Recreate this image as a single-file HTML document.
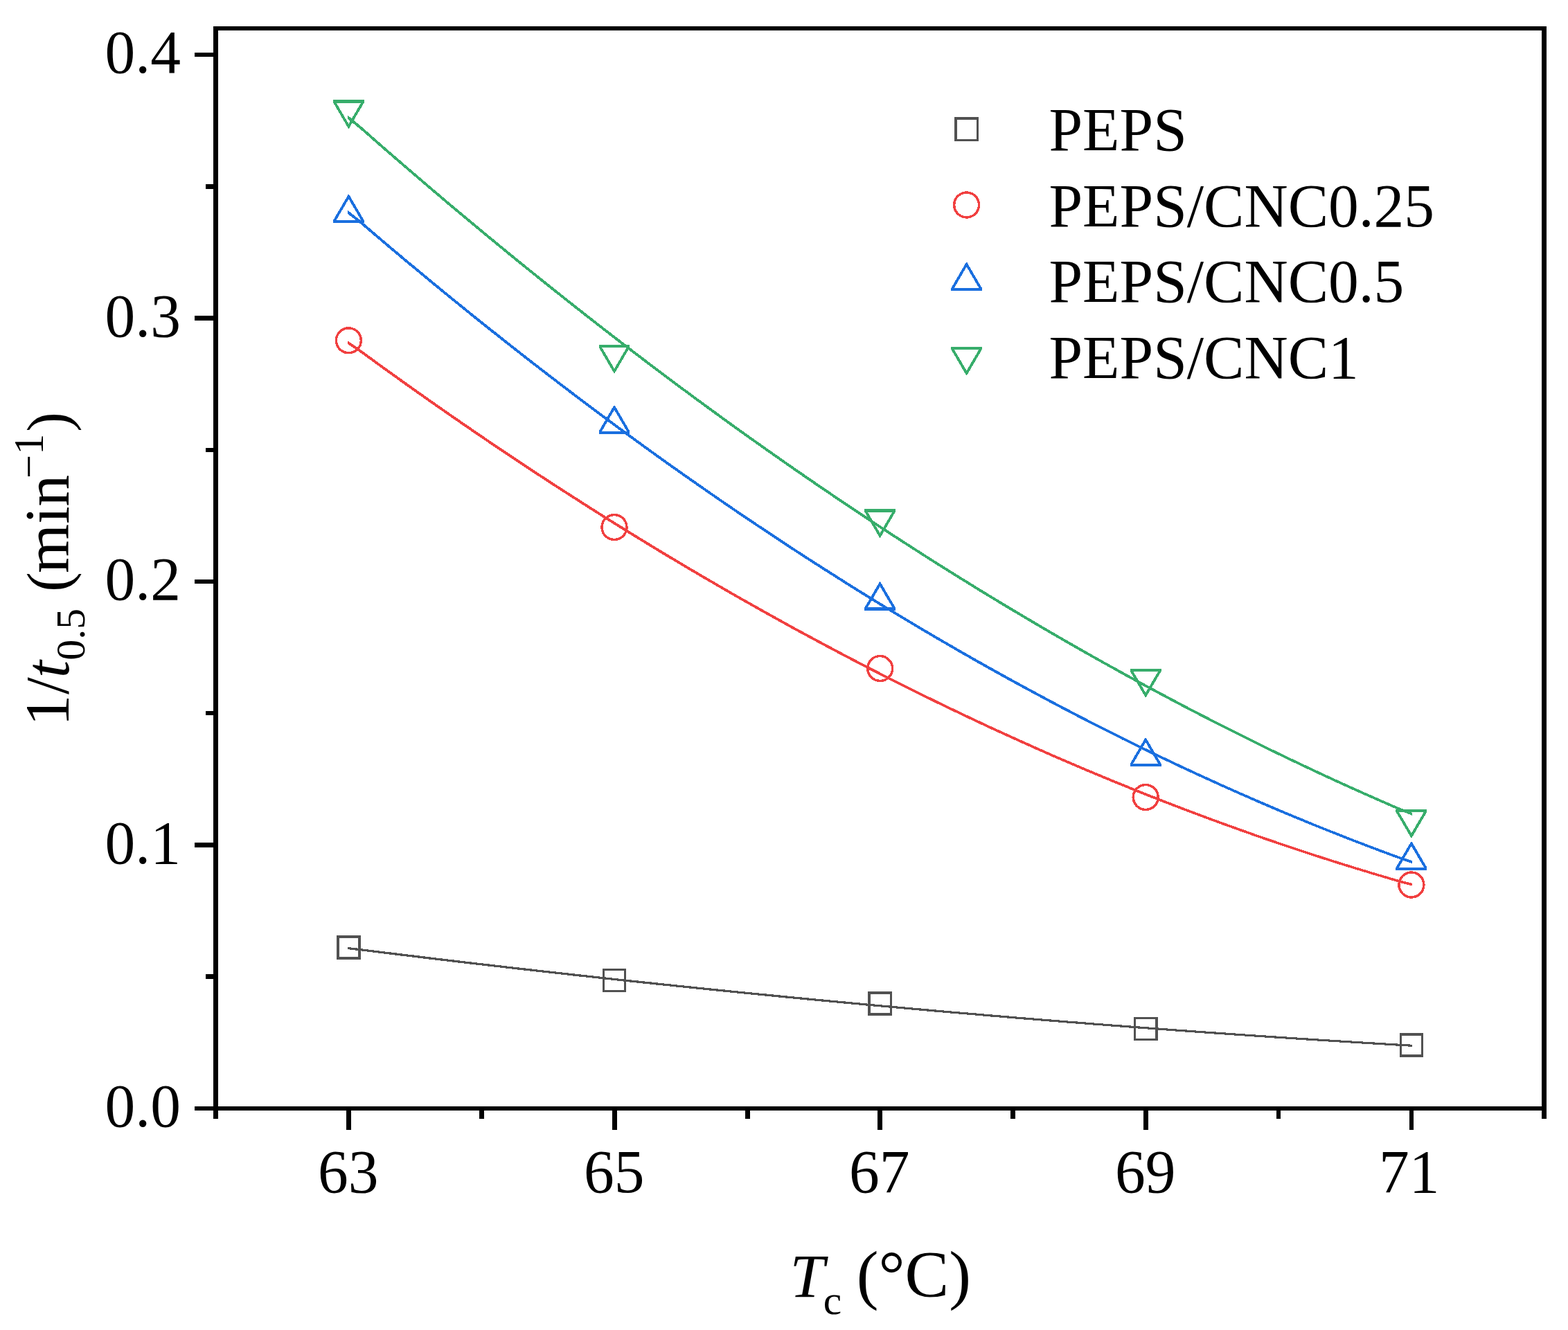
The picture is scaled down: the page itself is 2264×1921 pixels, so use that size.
<!DOCTYPE html>
<html lang="en"><head><meta charset="utf-8"><title>1/t0.5 versus Tc</title>
<style>
html,body{margin:0;padding:0;background:#fff;}
body{width:2264px;height:1921px;overflow:hidden;}
svg{display:block;}
text{font-family:"Liberation Serif",serif;font-size:87.5px;fill:#000;}
.it{font-style:italic;}
.mk{fill:none;stroke-width:3.5;stroke-linejoin:miter;}
.ln{fill:none;stroke-width:3.0;stroke-linejoin:round;}
</style></head><body>
<svg width="2264" height="1921" viewBox="0 0 2264 1921">
<rect x="0" y="0" width="2264" height="1921" fill="#fff"/>
<g shape-rendering="crispEdges" stroke="none">
<path d="M501.8 1367.9L519.3 1369.9L535.3 1371.9L551.2 1373.9L567.2 1375.8L583.2 1377.8L599.2 1379.7L615.2 1381.7L631.2 1383.6L647.1 1385.5L663.1 1387.4L679.1 1389.3L695.1 1391.2L711.1 1393.0L727.1 1394.9L743.0 1396.7L759.0 1398.5L775.0 1400.4L791.0 1402.2L807.0 1404.0L823.0 1405.7L839.0 1407.5L854.9 1409.3L870.9 1411.0L886.9 1412.8L902.9 1414.5L918.9 1416.2L934.9 1417.9L950.8 1419.6L966.8 1421.3L982.8 1423.0L998.8 1424.6L1014.8 1426.3L1030.8 1427.9L1046.7 1429.5L1062.7 1431.2L1078.7 1432.8L1094.7 1434.4L1110.7 1435.9L1126.7 1437.5L1142.6 1439.1L1158.6 1440.6L1174.6 1442.2L1190.6 1443.7L1206.6 1445.2L1222.5 1446.7L1238.5 1448.2L1254.5 1449.7L1270.5 1451.2L1286.5 1452.6L1302.5 1454.1L1318.5 1455.5L1334.4 1456.9L1350.4 1458.4L1366.4 1459.8L1382.4 1461.2L1398.4 1462.5L1414.3 1463.9L1430.3 1465.3L1446.3 1466.6L1462.3 1468.0L1478.3 1469.3L1494.3 1470.6L1510.2 1471.9L1526.2 1473.2L1542.2 1474.5L1558.2 1475.7L1574.2 1477.0L1590.2 1478.3L1606.2 1479.5L1622.1 1480.7L1638.1 1481.9L1654.1 1483.1L1670.1 1484.3L1686.1 1485.5L1702.0 1486.7L1718.0 1487.8L1734.0 1489.0L1750.0 1490.1L1766.0 1491.2L1782.0 1492.4L1798.0 1493.5L1813.9 1494.6L1829.9 1495.6L1845.9 1496.7L1861.9 1497.8L1877.9 1498.8L1893.8 1499.8L1909.8 1500.9L1925.8 1501.9L1941.8 1502.9L1957.8 1503.9L1973.8 1504.9L1989.8 1505.8L2005.7 1506.8L2021.7 1507.7L2039.2 1508.7L2039.2 1511.8L2021.7 1510.9L2005.7 1509.9L1989.8 1509.0L1973.8 1508.0L1957.8 1507.0L1941.8 1506.0L1925.8 1505.0L1909.8 1504.0L1893.8 1503.0L1877.9 1502.0L1861.9 1500.9L1845.9 1499.9L1829.9 1498.8L1813.9 1497.7L1798.0 1496.6L1782.0 1495.5L1766.0 1494.4L1750.0 1493.3L1734.0 1492.2L1718.0 1491.0L1702.0 1489.9L1686.1 1488.7L1670.1 1487.5L1654.1 1486.3L1638.1 1485.1L1622.1 1483.9L1606.2 1482.7L1590.2 1481.4L1574.2 1480.2L1558.2 1478.9L1542.2 1477.7L1526.2 1476.4L1510.2 1475.1L1494.3 1473.8L1478.3 1472.5L1462.3 1471.2L1446.3 1469.8L1430.3 1468.5L1414.3 1467.1L1398.4 1465.7L1382.4 1464.4L1366.4 1463.0L1350.4 1461.6L1334.4 1460.2L1318.5 1458.7L1302.5 1457.3L1286.5 1455.8L1270.5 1454.4L1254.5 1452.9L1238.5 1451.4L1222.5 1449.9L1206.6 1448.4L1190.6 1446.9L1174.6 1445.4L1158.6 1443.9L1142.6 1442.3L1126.7 1440.8L1110.7 1439.2L1094.7 1437.6L1078.7 1436.0L1062.7 1434.4L1046.7 1432.8L1030.8 1431.2L1014.8 1429.5L998.8 1427.9L982.8 1426.2L966.8 1424.5L950.8 1422.9L934.9 1421.2L918.9 1419.5L902.9 1417.8L886.9 1416.0L870.9 1414.3L854.9 1412.5L839.0 1410.8L823.0 1409.0L807.0 1407.2L791.0 1405.4L775.0 1403.6L759.0 1401.8L743.0 1400.0L727.1 1398.1L711.1 1396.3L695.1 1394.4L679.1 1392.6L663.1 1390.7L647.1 1388.8L631.2 1386.9L615.2 1385.0L599.2 1383.0L583.2 1381.1L567.2 1379.1L551.2 1377.2L535.3 1375.2L519.3 1373.2L501.8 1371.2Z" fill="#515151"/>
<path d="M501.8 492.1L519.3 503.9L535.3 515.6L551.2 527.2L567.2 538.7L583.2 550.1L599.2 561.5L615.2 572.8L631.2 584.0L647.1 595.2L663.1 606.2L679.1 617.2L695.1 628.2L711.1 639.0L727.1 649.8L743.0 660.5L759.0 671.1L775.0 681.6L791.0 692.1L807.0 702.5L823.0 712.8L839.0 723.0L854.9 733.2L870.9 743.3L886.9 753.3L902.9 763.2L918.9 773.1L934.9 782.9L950.8 792.6L966.8 802.2L982.8 811.8L998.8 821.3L1014.8 830.7L1030.8 840.0L1046.7 849.3L1062.7 858.5L1078.7 867.6L1094.7 876.6L1110.7 885.6L1126.7 894.4L1142.6 903.3L1158.6 912.0L1174.6 920.6L1190.6 929.2L1206.6 937.7L1222.5 946.2L1238.5 954.5L1254.5 962.8L1270.5 971.0L1286.5 979.1L1302.5 987.2L1318.5 995.1L1334.4 1003.0L1350.4 1010.9L1366.4 1018.6L1382.4 1026.3L1398.4 1033.9L1414.3 1041.4L1430.3 1048.9L1446.3 1056.2L1462.3 1063.5L1478.3 1070.7L1494.3 1077.9L1510.2 1085.0L1526.2 1092.0L1542.2 1098.9L1558.2 1105.7L1574.2 1112.5L1590.2 1119.2L1606.2 1125.8L1622.1 1132.3L1638.1 1138.8L1654.1 1145.2L1670.1 1151.5L1686.1 1157.8L1702.0 1163.9L1718.0 1170.0L1734.0 1176.0L1750.0 1182.0L1766.0 1187.8L1782.0 1193.6L1798.0 1199.3L1813.9 1205.0L1829.9 1210.5L1845.9 1216.0L1861.9 1221.4L1877.9 1226.8L1893.8 1232.0L1909.8 1237.2L1925.8 1242.3L1941.8 1247.3L1957.8 1252.3L1973.8 1257.2L1989.8 1262.0L2005.7 1266.7L2021.7 1271.4L2039.2 1275.9L2039.2 1279.6L2021.7 1275.1L2005.7 1270.4L1989.8 1265.7L1973.8 1260.9L1957.8 1256.0L1941.8 1251.1L1925.8 1246.1L1909.8 1241.0L1893.8 1235.8L1877.9 1230.5L1861.9 1225.2L1845.9 1219.8L1829.9 1214.4L1813.9 1208.8L1798.0 1203.2L1782.0 1197.5L1766.0 1191.7L1750.0 1185.8L1734.0 1179.9L1718.0 1173.9L1702.0 1167.8L1686.1 1161.7L1670.1 1155.5L1654.1 1149.2L1638.1 1142.8L1622.1 1136.3L1606.2 1129.8L1590.2 1123.2L1574.2 1116.5L1558.2 1109.7L1542.2 1102.9L1526.2 1096.0L1510.2 1089.0L1494.3 1082.0L1478.3 1074.8L1462.3 1067.6L1446.3 1060.3L1430.3 1053.0L1414.3 1045.5L1398.4 1038.0L1382.4 1030.4L1366.4 1022.8L1350.4 1015.0L1334.4 1007.2L1318.5 999.3L1302.5 991.4L1286.5 983.3L1270.5 975.2L1254.5 967.0L1238.5 958.8L1222.5 950.4L1206.6 942.0L1190.6 933.5L1174.6 924.9L1158.6 916.3L1142.6 907.6L1126.7 898.8L1110.7 889.9L1094.7 881.0L1078.7 871.9L1062.7 862.8L1046.7 853.7L1030.8 844.4L1014.8 835.1L998.8 825.7L982.8 816.2L966.8 806.7L950.8 797.1L934.9 787.4L918.9 777.6L902.9 767.7L886.9 757.8L870.9 747.8L854.9 737.7L839.0 727.6L823.0 717.3L807.0 707.0L791.0 696.7L775.0 686.2L759.0 675.7L743.0 665.1L727.1 654.4L711.1 643.6L695.1 632.8L679.1 621.9L663.1 610.9L647.1 599.8L631.2 588.7L615.2 577.5L599.2 566.2L583.2 554.9L567.2 543.4L551.2 531.9L535.3 520.3L519.3 508.7L501.8 496.9Z" fill="#F14040"/>
<path d="M501.8 303.5L519.3 317.3L535.3 331.0L551.2 344.6L567.2 358.1L583.2 371.6L599.2 384.9L615.2 398.2L631.2 411.4L647.1 424.5L663.1 437.5L679.1 450.4L695.1 463.3L711.1 476.0L727.1 488.7L743.0 501.3L759.0 513.8L775.0 526.3L791.0 538.6L807.0 550.9L823.0 563.1L839.0 575.2L854.9 587.2L870.9 599.1L886.9 610.9L902.9 622.7L918.9 634.4L934.9 646.0L950.8 657.5L966.8 668.9L982.8 680.2L998.8 691.5L1014.8 702.7L1030.8 713.8L1046.7 724.8L1062.7 735.7L1078.7 746.5L1094.7 757.3L1110.7 767.9L1126.7 778.5L1142.6 789.0L1158.6 799.5L1174.6 809.8L1190.6 820.0L1206.6 830.2L1222.5 840.3L1238.5 850.3L1254.5 860.2L1270.5 870.0L1286.5 879.8L1302.5 889.4L1318.5 899.0L1334.4 908.5L1350.4 917.9L1366.4 927.2L1382.4 936.5L1398.4 945.6L1414.3 954.7L1430.3 963.7L1446.3 972.6L1462.3 981.4L1478.3 990.2L1494.3 998.8L1510.2 1007.4L1526.2 1015.9L1542.2 1024.3L1558.2 1032.6L1574.2 1040.9L1590.2 1049.0L1606.2 1057.1L1622.1 1065.1L1638.1 1073.0L1654.1 1080.8L1670.1 1088.5L1686.1 1096.2L1702.0 1103.7L1718.0 1111.2L1734.0 1118.6L1750.0 1125.9L1766.0 1133.2L1782.0 1140.3L1798.0 1147.4L1813.9 1154.3L1829.9 1161.2L1845.9 1168.1L1861.9 1174.8L1877.9 1181.4L1893.8 1188.0L1909.8 1194.5L1925.8 1200.8L1941.8 1207.2L1957.8 1213.4L1973.8 1219.5L1989.8 1225.6L2005.7 1231.5L2021.7 1237.4L2039.2 1243.2L2039.2 1247.1L2021.7 1241.3L2005.7 1235.4L1989.8 1229.5L1973.8 1223.4L1957.8 1217.3L1941.8 1211.1L1925.8 1204.8L1909.8 1198.4L1893.8 1192.0L1877.9 1185.4L1861.9 1178.8L1845.9 1172.1L1829.9 1165.3L1813.9 1158.4L1798.0 1151.4L1782.0 1144.4L1766.0 1137.2L1750.0 1130.0L1734.0 1122.7L1718.0 1115.3L1702.0 1107.9L1686.1 1100.3L1670.1 1092.7L1654.1 1085.0L1638.1 1077.2L1622.1 1069.3L1606.2 1061.3L1590.2 1053.2L1574.2 1045.1L1558.2 1036.9L1542.2 1028.6L1526.2 1020.2L1510.2 1011.7L1494.3 1003.1L1478.3 994.5L1462.3 985.8L1446.3 977.0L1430.3 968.1L1414.3 959.1L1398.4 950.0L1382.4 940.9L1366.4 931.6L1350.4 922.3L1334.4 912.9L1318.5 903.4L1302.5 893.9L1286.5 884.2L1270.5 874.5L1254.5 864.7L1238.5 854.8L1222.5 844.8L1206.6 834.7L1190.6 824.6L1174.6 814.3L1158.6 804.0L1142.6 793.6L1126.7 783.1L1110.7 772.5L1094.7 761.9L1078.7 751.1L1062.7 740.3L1046.7 729.4L1030.8 718.4L1014.8 707.3L998.8 696.2L982.8 684.9L966.8 673.6L950.8 662.2L934.9 650.7L918.9 639.1L902.9 627.5L886.9 615.7L870.9 603.9L854.9 592.0L839.0 580.0L823.0 567.9L807.0 555.7L791.0 543.5L775.0 531.1L759.0 518.7L743.0 506.2L727.1 493.6L711.1 481.0L695.1 468.2L679.1 455.4L663.1 442.4L647.1 429.4L631.2 416.4L615.2 403.2L599.2 389.9L583.2 376.6L567.2 363.2L551.2 349.6L535.3 336.1L519.3 322.4L501.8 308.6Z" fill="#1A6FDF"/>
<path d="M501.8 166.5L519.3 180.7L535.3 194.7L551.2 208.7L567.2 222.6L583.2 236.4L599.2 250.2L615.2 263.9L631.2 277.5L647.1 291.0L663.1 304.4L679.1 317.8L695.1 331.1L711.1 344.3L727.1 357.5L743.0 370.5L759.0 383.5L775.0 396.4L791.0 409.2L807.0 422.0L823.0 434.7L839.0 447.3L854.9 459.8L870.9 472.3L886.9 484.6L902.9 496.9L918.9 509.1L934.9 521.3L950.8 533.4L966.8 545.3L982.8 557.3L998.8 569.1L1014.8 580.9L1030.8 592.5L1046.7 604.1L1062.7 615.7L1078.7 627.1L1094.7 638.5L1110.7 649.8L1126.7 661.0L1142.6 672.2L1158.6 683.2L1174.6 694.2L1190.6 705.1L1206.6 716.0L1222.5 726.7L1238.5 737.4L1254.5 748.0L1270.5 758.6L1286.5 769.0L1302.5 779.4L1318.5 789.7L1334.4 799.9L1350.4 810.1L1366.4 820.1L1382.4 830.1L1398.4 840.0L1414.3 849.9L1430.3 859.6L1446.3 869.3L1462.3 878.9L1478.3 888.5L1494.3 897.9L1510.2 907.3L1526.2 916.6L1542.2 925.8L1558.2 935.0L1574.2 944.1L1590.2 953.1L1606.2 962.0L1622.1 970.8L1638.1 979.6L1654.1 988.3L1670.1 996.9L1686.1 1005.4L1702.0 1013.9L1718.0 1022.3L1734.0 1030.6L1750.0 1038.8L1766.0 1047.0L1782.0 1055.0L1798.0 1063.0L1813.9 1071.0L1829.9 1078.8L1845.9 1086.6L1861.9 1094.3L1877.9 1101.9L1893.8 1109.4L1909.8 1116.9L1925.8 1124.3L1941.8 1131.6L1957.8 1138.8L1973.8 1146.0L1989.8 1153.0L2005.7 1160.0L2021.7 1167.0L2039.2 1173.8L2039.2 1177.8L2021.7 1171.0L2005.7 1164.1L1989.8 1157.1L1973.8 1150.0L1957.8 1142.9L1941.8 1135.7L1925.8 1128.4L1909.8 1121.0L1893.8 1113.5L1877.9 1106.0L1861.9 1098.4L1845.9 1090.7L1829.9 1083.0L1813.9 1075.1L1798.0 1067.2L1782.0 1059.2L1766.0 1051.2L1750.0 1043.0L1734.0 1034.8L1718.0 1026.5L1702.0 1018.2L1686.1 1009.7L1670.1 1001.2L1654.1 992.6L1638.1 983.9L1622.1 975.2L1606.2 966.3L1590.2 957.4L1574.2 948.4L1558.2 939.4L1542.2 930.2L1526.2 921.0L1510.2 911.7L1494.3 902.4L1478.3 892.9L1462.3 883.4L1446.3 873.8L1430.3 864.1L1414.3 854.4L1398.4 844.5L1382.4 834.6L1366.4 824.6L1350.4 814.6L1334.4 804.4L1318.5 794.2L1302.5 783.9L1286.5 773.6L1270.5 763.1L1254.5 752.6L1238.5 742.0L1222.5 731.3L1206.6 720.6L1190.6 709.8L1174.6 698.9L1158.6 687.9L1142.6 676.8L1126.7 665.7L1110.7 654.5L1094.7 643.2L1078.7 631.8L1062.7 620.4L1046.7 608.9L1030.8 597.3L1014.8 585.6L998.8 573.9L982.8 562.0L966.8 550.1L950.8 538.2L934.9 526.1L918.9 514.0L902.9 501.8L886.9 489.5L870.9 477.1L854.9 464.7L839.0 452.2L823.0 439.6L807.0 426.9L791.0 414.2L775.0 401.3L759.0 388.4L743.0 375.5L727.1 362.4L711.1 349.3L695.1 336.1L679.1 322.8L663.1 309.4L647.1 296.0L631.2 282.5L615.2 268.9L599.2 255.2L583.2 241.5L567.2 227.7L551.2 213.8L535.3 199.8L519.3 185.8L501.8 171.6Z" fill="#37AD6B"/>
</g>
<g class="mk" shape-rendering="crispEdges">
<rect x="487.75" y="1352.85" width="31.30" height="31.30" stroke="#515151"/>
<rect x="871.35" y="1400.25" width="31.30" height="31.30" stroke="#515151"/>
<rect x="1254.95" y="1433.75" width="31.30" height="31.30" stroke="#515151"/>
<rect x="1638.55" y="1470.25" width="31.30" height="31.30" stroke="#515151"/>
<rect x="2022.25" y="1493.75" width="31.30" height="31.30" stroke="#515151"/>
<circle cx="503.40" cy="491.80" r="17.95" stroke="#F14040"/>
<circle cx="887.00" cy="761.50" r="17.95" stroke="#F14040"/>
<circle cx="1270.60" cy="965.50" r="17.95" stroke="#F14040"/>
<circle cx="1654.20" cy="1151.50" r="17.95" stroke="#F14040"/>
<circle cx="2037.90" cy="1278.00" r="17.95" stroke="#F14040"/>
<path d="M502.80 280.90L504.00 280.90L525.85 318.30L525.85 322.00L480.95 322.00L480.95 318.30ZM503.40 287.50L521.20 317.90L485.60 317.90Z" fill="#1A6FDF" fill-rule="evenodd" stroke="none"/>
<path d="M886.40 585.50L887.60 585.50L909.45 622.90L909.45 626.60L864.55 626.60L864.55 622.90ZM887.00 592.10L904.80 622.50L869.20 622.50Z" fill="#1A6FDF" fill-rule="evenodd" stroke="none"/>
<path d="M1270.00 840.40L1271.20 840.40L1293.05 877.80L1293.05 881.50L1248.15 881.50L1248.15 877.80ZM1270.60 847.00L1288.40 877.40L1252.80 877.40Z" fill="#1A6FDF" fill-rule="evenodd" stroke="none"/>
<path d="M1653.60 1065.60L1654.80 1065.60L1676.65 1103.00L1676.65 1106.70L1631.75 1106.70L1631.75 1103.00ZM1654.20 1072.20L1672.00 1102.60L1636.40 1102.60Z" fill="#1A6FDF" fill-rule="evenodd" stroke="none"/>
<path d="M2037.30 1215.50L2038.50 1215.50L2060.35 1252.90L2060.35 1256.60L2015.45 1256.60L2015.45 1252.90ZM2037.90 1222.10L2055.70 1252.50L2020.10 1252.50Z" fill="#1A6FDF" fill-rule="evenodd" stroke="none"/>
<path d="M502.80 185.50L504.00 185.50L525.85 148.10L525.85 144.40L480.95 144.40L480.95 148.10ZM503.40 178.90L521.20 148.50L485.60 148.50Z" fill="#37AD6B" fill-rule="evenodd" stroke="none"/>
<path d="M886.40 539.00L887.60 539.00L909.45 501.60L909.45 497.90L864.55 497.90L864.55 501.60ZM887.00 532.40L904.80 502.00L869.20 502.00Z" fill="#37AD6B" fill-rule="evenodd" stroke="none"/>
<path d="M1270.00 776.50L1271.20 776.50L1293.05 739.10L1293.05 735.40L1248.15 735.40L1248.15 739.10ZM1270.60 769.90L1288.40 739.50L1252.80 739.50Z" fill="#37AD6B" fill-rule="evenodd" stroke="none"/>
<path d="M1653.60 1007.00L1654.80 1007.00L1676.65 969.60L1676.65 965.90L1631.75 965.90L1631.75 969.60ZM1654.20 1000.40L1672.00 970.00L1636.40 970.00Z" fill="#37AD6B" fill-rule="evenodd" stroke="none"/>
<path d="M2037.30 1210.10L2038.50 1210.10L2060.35 1172.70L2060.35 1169.00L2015.45 1169.00L2015.45 1172.70ZM2037.90 1203.50L2055.70 1173.10L2020.10 1173.10Z" fill="#37AD6B" fill-rule="evenodd" stroke="none"/>
</g>
<g fill="#000" shape-rendering="crispEdges">
<rect x="308" y="38" width="7" height="1566"/>
<rect x="2226" y="38" width="7" height="1566"/>
<rect x="308" y="38" width="1925" height="6"/>
<rect x="308" y="1598" width="1925" height="6"/>
<rect x="281" y="1598" width="28" height="6"/>
<rect x="297" y="1407" width="12" height="7"/>
<rect x="281" y="1217" width="28" height="7"/>
<rect x="297" y="1027" width="12" height="6"/>
<rect x="281" y="837" width="28" height="6"/>
<rect x="297" y="647" width="12" height="6"/>
<rect x="281" y="456" width="28" height="7"/>
<rect x="297" y="266" width="12" height="7"/>
<rect x="281" y="76" width="28" height="6"/>
<rect x="308" y="1603" width="7" height="13"/>
<rect x="500" y="1603" width="7" height="29"/>
<rect x="692" y="1603" width="7" height="13"/>
<rect x="884" y="1603" width="7" height="29"/>
<rect x="1076" y="1603" width="7" height="13"/>
<rect x="1267" y="1603" width="7" height="29"/>
<rect x="1459" y="1603" width="7" height="13"/>
<rect x="1651" y="1603" width="7" height="29"/>
<rect x="1843" y="1603" width="6" height="13"/>
<rect x="2035" y="1603" width="6" height="29"/>
<rect x="2226" y="1603" width="7" height="13"/>
</g>
<g>
<text transform="translate(151.59 1627.41) scale(1.0000 1.0167)">0.0</text>
<text transform="translate(151.59 1246.91) scale(1.0000 1.0167)">0.1</text>
<text transform="translate(151.59 866.41) scale(1.0000 1.0167)">0.2</text>
<text transform="translate(151.59 485.91) scale(1.0000 1.0167)">0.3</text>
<text transform="translate(151.59 105.41) scale(1.0000 1.0167)">0.4</text>
<text transform="translate(459.01 1721.50) scale(1.0000 1.0255)">63</text>
<text transform="translate(843.01 1721.50) scale(1.0000 1.0255)">65</text>
<text transform="translate(1226.01 1721.50) scale(1.0000 1.0255)">67</text>
<text transform="translate(1610.01 1721.50) scale(1.0000 1.0255)">69</text>
<text transform="translate(1991.07 1721.50) scale(1.0000 1.0255)">71</text>
</g>
<g>
<text transform="translate(1514.38 217.00) scale(1.0000 1.0130)">PEPS</text>
<text transform="translate(1514.38 327.00) scale(1.0000 1.0130)">PEPS/CNC0.25</text>
<text transform="translate(1514.38 436.00) scale(1.0000 1.0130)">PEPS/CNC0.5</text>
<text transform="translate(1514.38 546.10) scale(1.0000 1.0130)">PEPS/CNC1</text>
</g>
<g class="mk" shape-rendering="crispEdges">
<rect x="1379.95" y="170.95" width="31.30" height="31.30" stroke="#515151"/>
<circle cx="1395.60" cy="296.00" r="17.95" stroke="#F14040"/>
<path d="M1395.00 378.90L1396.20 378.90L1418.05 416.30L1418.05 420.00L1373.15 420.00L1373.15 416.30ZM1395.60 385.50L1413.40 415.90L1377.80 415.90Z" fill="#1A6FDF" fill-rule="evenodd" stroke="none"/>
<path d="M1395.00 541.90L1396.20 541.90L1418.05 504.50L1418.05 500.80L1373.15 500.80L1373.15 504.50ZM1395.60 535.30L1413.40 504.90L1377.80 504.90Z" fill="#37AD6B" fill-rule="evenodd" stroke="none"/>
</g>
<text><tspan class="it" x="1140.39" y="1873.36" font-size="89.89">T</tspan><tspan x="1188.66" y="1898.13" font-size="59.50">c</tspan> <tspan x="1236.80" y="1873.12" font-size="95.25">(°C)</tspan></text>
<text transform="rotate(-90)"><tspan x="-1048.86" y="99.30" font-size="90.61">1</tspan><tspan x="-1002.96" y="97.94" font-size="89.37">/</tspan><tspan class="it" x="-979.06" y="99.42" font-size="90.06">t</tspan><tspan x="-953.80" y="121.83" font-size="59.92">0.5</tspan> <tspan x="-854.72" y="98.64" font-size="86.01">(</tspan><tspan x="-827.91" y="98.52" font-size="91.42">min</tspan><tspan x="-690.93" y="62.33" font-size="60.54">−1</tspan><tspan x="-623.86" y="98.64" font-size="86.01">)</tspan></text>
</svg>
</body></html>
